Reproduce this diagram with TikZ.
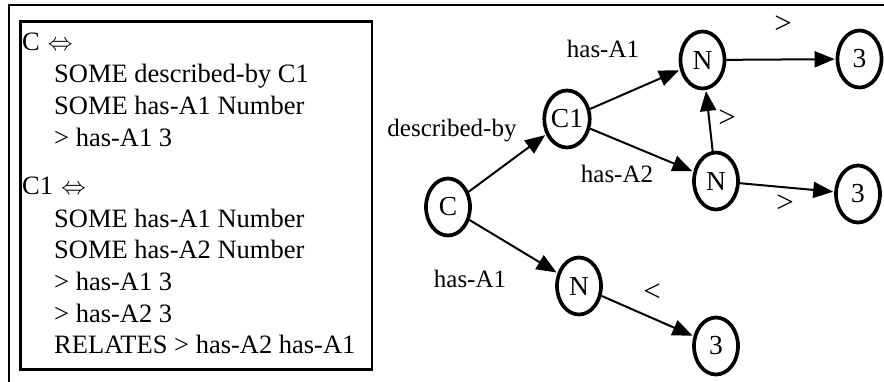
\documentclass[tikz,border=0pt]{standalone}
\usepackage{fontspec}
\setmainfont{Liberation Serif}
\usetikzlibrary{shapes.geometric,arrows.meta}
\begin{document}
\begin{tikzpicture}[x=1pt,y=-1pt,
  gnode/.style={draw, ellipse, line width=3.7pt, minimum width=44pt, minimum height=57pt, inner sep=0pt, font=\fontsize{27.5}{27}\selectfont},
  edge/.style={line width=2pt, -{Triangle[length=20pt,width=16pt]}, shorten >=1pt},
  elabel/.style={font=\fontsize{25}{25}\selectfont, inner sep=0pt, anchor=base},
  rel/.style={font=\fontsize{31}{31}\selectfont, inner sep=0pt},
  deftext/.style={font=\fontsize{26.5}{30}\selectfont, inner sep=0pt, anchor=base west},
  frame/.style={line width=2.5pt}
]
\useasboundingbox (0,0) rectangle (884,381);
\coordinate (fb) at (9,390);
\coordinate (fc) at (9,5);
\coordinate (fr) at (900,5);
\draw[frame] (fb) -- (fc) -- (fr);

% definitions box
\node[draw, frame, minimum width=351.5pt, minimum height=348pt, inner sep=0pt] (defbox) at (196,195.4) {};
\node[deftext] (l1) at (22,50) {C\hspace{8pt}$\Leftrightarrow$};
\node[deftext] (l2) at (54,82) {SOME described-by C1};
\node[deftext] (l3) at (54,114) {SOME has-A1 Number};
\node[deftext] (l4) at (54,146) {> has-A1 3};
\node[deftext] (l5) at (22,194) {C1\hspace{8pt}$\Leftrightarrow$};
\node[deftext] (l6) at (54,227) {SOME has-A1 Number};
\node[deftext] (l7) at (54,258) {SOME has-A2 Number};
\node[deftext] (l8) at (54,290) {> has-A1 3};
\node[deftext] (l9) at (54,322) {> has-A2 3};
\node[deftext] (l10) at (54,353) {RELATES > has-A2 has-A1};

% graph nodes
\node[gnode] (C) at (448,207) {C};
\node[gnode] (C1) at (567,119) {C1};
\node[gnode] (Na) at (702.5,60) {N};
\node[gnode] (Nb) at (716,181) {N};
\node[gnode] (Nc) at (579,286) {N};
\node[gnode] (Ta) at (859.5,59) {3};
\node[gnode] (Tb) at (858,194) {3};
\node[gnode] (Tc) at (716,346) {3};

% edges
\draw[edge] (C) -- (C1);
\draw[edge] (C1) -- (Na);
\draw[edge] (C1) -- (Nb);
\draw[edge] (Nb) -- (Na);
\draw[edge] (Na) -- (Ta);
\draw[edge] (Nb) -- (Tb);
\draw[edge] (C) -- (Nc);
\draw[edge] (Nc) -- (Tc);

% edge labels
\node[elabel] (lbdesc) at (452,136.5) {described-by};
\node[elabel] (lbA1a) at (603,57) {has-A1};
\node[elabel] (lbA2) at (617,182) {has-A2};
\node[elabel] (lbA1b) at (470,287) {has-A1};
\node[rel] (rg1) at (783,25) {>};
\node[rel] (rg2) at (727,119) {>};
\node[rel] (rg3) at (785,204) {>};
\node[rel] (rl1) at (652,293) {<};
\end{tikzpicture}
\end{document}
